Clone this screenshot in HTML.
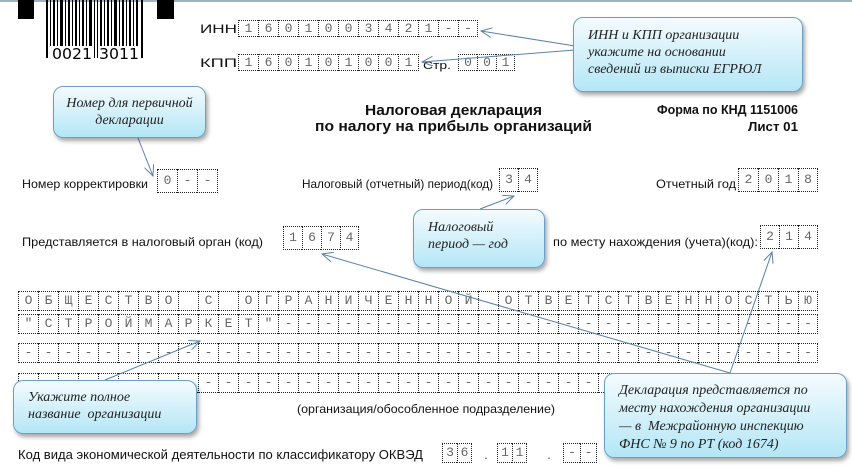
<!DOCTYPE html>
<html><head><meta charset="utf-8"><style>
body{margin:0;width:852px;height:468px;overflow:hidden;background:#fff;position:relative;font-family:"Liberation Sans",sans-serif}
.c{position:absolute;display:flex}
.c span{box-sizing:border-box;border:1px dotted #222;border-right:none;text-align:center;font-family:"Liberation Mono",monospace;color:#666;font-size:13px}
.c span:last-child{border-right:1px dotted #222}
.co{position:absolute;box-sizing:border-box;border:1px solid #6a9fc9;border-radius:10px;background:linear-gradient(#f4fbfe,#b4e6f6);box-shadow:2px 3px 4px rgba(0,0,0,.35);font-family:"Liberation Serif",serif;font-style:italic;font-size:14px;color:#222;line-height:17px}
svg{position:absolute;left:0;top:0}
</style></head><body>
<svg width="852" height="468" style="z-index:0">
<line x1="0" y1="1" x2="852" y2="1" stroke="#9fb3c4" stroke-width="2"/>
<rect x="18" y="0" width="16" height="19" fill="#000"/><rect x="157" y="0" width="17" height="19" fill="#000"/>
<g fill="#000">
<rect x="46" y="0" width="2" height="58"/><rect x="50" y="0" width="1" height="46"/><rect x="53" y="0" width="2" height="46"/><rect x="57" y="0" width="1" height="46"/><rect x="60" y="0" width="3" height="46"/><rect x="65" y="0" width="1" height="46"/><rect x="68" y="0" width="2" height="46"/><rect x="72" y="0" width="1" height="46"/><rect x="75" y="0" width="2" height="46"/><rect x="79" y="0" width="1" height="46"/><rect x="82" y="0" width="2" height="46"/><rect x="86" y="0" width="1" height="46"/><rect x="89" y="0" width="3" height="46"/><rect x="94" y="0" width="1" height="58"/><rect x="97" y="0" width="1" height="58"/><rect x="100" y="0" width="2" height="46"/><rect x="104" y="0" width="1" height="46"/><rect x="107" y="0" width="2" height="46"/><rect x="111" y="0" width="1" height="46"/><rect x="114" y="0" width="3" height="46"/><rect x="119" y="0" width="1" height="46"/><rect x="122" y="0" width="2" height="46"/><rect x="126" y="0" width="1" height="46"/><rect x="129" y="0" width="2" height="46"/><rect x="133" y="0" width="1" height="46"/><rect x="136" y="0" width="2" height="46"/><rect x="141" y="0" width="2" height="58"/>
</g>
<text x="52" y="59" font-family="DejaVu Sans,sans-serif" font-size="15" textLength="40" lengthAdjust="spacingAndGlyphs">0021</text>
<text x="99" y="59" font-family="DejaVu Sans,sans-serif" font-size="15" textLength="40" lengthAdjust="spacingAndGlyphs">3011</text>
<g font-size="12" fill="#111">
<text x="200" y="33" textLength="37" lengthAdjust="spacingAndGlyphs">ИНН</text>
<text x="200" y="67" textLength="37" lengthAdjust="spacingAndGlyphs">КПП</text>
<text x="423" y="69" font-size="11" textLength="28" lengthAdjust="spacingAndGlyphs">Стр.</text>
<text x="365" y="115" font-size="15" font-weight="bold" textLength="177" lengthAdjust="spacingAndGlyphs">Налоговая декларация</text>
<text x="315" y="131" font-size="15" font-weight="bold" textLength="277" lengthAdjust="spacingAndGlyphs">по налогу на прибыль организаций</text>
<text x="657" y="114" font-size="12.5" font-weight="bold" textLength="141" lengthAdjust="spacingAndGlyphs">Форма по КНД 1151006</text>
<text x="748" y="131" font-size="12.5" font-weight="bold" textLength="50" lengthAdjust="spacingAndGlyphs">Лист 01</text>
<text x="22" y="188" textLength="126" lengthAdjust="spacingAndGlyphs">Номер корректировки</text>
<text x="302" y="188" textLength="191" lengthAdjust="spacingAndGlyphs">Налоговый (отчетный) период(код)</text>
<text x="656" y="188" textLength="80" lengthAdjust="spacingAndGlyphs">Отчетный год</text>
<text x="22" y="246" textLength="241" lengthAdjust="spacingAndGlyphs">Представляется в налоговый орган (код)</text>
<text x="553" y="246" textLength="205" lengthAdjust="spacingAndGlyphs">по месту нахождения (учета)(код):</text>
<text x="297" y="413" textLength="258" lengthAdjust="spacingAndGlyphs">(организация/обособленное подразделение)</text>
<text x="18" y="459" font-size="13" textLength="405" lengthAdjust="spacingAndGlyphs">Код вида экономической деятельности по классификатору ОКВЭД</text>
<text x="484" y="459" font-size="14" fill="#666">.</text>
<text x="547" y="459" font-size="14" fill="#666">.</text>
</g>
</svg>
<div class="c" style="left:238px;top:20px"><span style="width:20px;height:17px;line-height:15px">1</span><span style="width:20px;height:17px;line-height:15px">6</span><span style="width:20px;height:17px;line-height:15px">0</span><span style="width:20px;height:17px;line-height:15px">1</span><span style="width:20px;height:17px;line-height:15px">0</span><span style="width:20px;height:17px;line-height:15px">0</span><span style="width:20px;height:17px;line-height:15px">3</span><span style="width:20px;height:17px;line-height:15px">4</span><span style="width:20px;height:17px;line-height:15px">2</span><span style="width:20px;height:17px;line-height:15px">1</span><span style="width:20px;height:17px;line-height:15px">-</span><span style="width:20px;height:17px;line-height:15px">-</span></div>
<div class="c" style="left:238px;top:54px"><span style="width:20px;height:17px;line-height:15px">1</span><span style="width:20px;height:17px;line-height:15px">6</span><span style="width:20px;height:17px;line-height:15px">0</span><span style="width:20px;height:17px;line-height:15px">1</span><span style="width:20px;height:17px;line-height:15px">0</span><span style="width:20px;height:17px;line-height:15px">1</span><span style="width:20px;height:17px;line-height:15px">0</span><span style="width:20px;height:17px;line-height:15px">0</span><span style="width:21px;height:17px;line-height:15px">1</span></div>
<div class="c" style="left:458px;top:54px"><span style="width:19px;height:17px;line-height:15px">0</span><span style="width:19px;height:17px;line-height:15px">0</span><span style="width:19px;height:17px;line-height:15px">1</span></div>
<div class="c" style="left:157px;top:169px"><span style="width:20px;height:24px;line-height:22px">0</span><span style="width:20px;height:24px;line-height:22px">-</span><span style="width:21px;height:24px;line-height:22px">-</span></div>
<div class="c" style="left:499px;top:168px"><span style="width:19px;height:24px;line-height:22px">3</span><span style="width:20px;height:24px;line-height:22px">4</span></div>
<div class="c" style="left:738px;top:168px"><span style="width:20px;height:24px;line-height:22px">2</span><span style="width:20px;height:24px;line-height:22px">0</span><span style="width:20px;height:24px;line-height:22px">1</span><span style="width:20px;height:24px;line-height:22px">8</span></div>
<div class="c" style="left:283px;top:226px"><span style="width:19px;height:24px;line-height:22px">1</span><span style="width:19px;height:24px;line-height:22px">6</span><span style="width:19px;height:24px;line-height:22px">7</span><span style="width:19px;height:24px;line-height:22px">4</span></div>
<div class="c" style="left:760px;top:225px"><span style="width:19px;height:24px;line-height:22px">2</span><span style="width:19px;height:24px;line-height:22px">1</span><span style="width:20px;height:24px;line-height:22px">4</span></div>
<div class="c" style="left:442px;top:443px"><span style="width:15px;height:20px;line-height:18px">3</span><span style="width:15px;height:20px;line-height:18px">6</span></div>
<div class="c" style="left:497px;top:443px"><span style="width:15px;height:20px;line-height:18px">1</span><span style="width:15px;height:20px;line-height:18px">1</span></div>
<div class="c" style="left:563px;top:443px"><span style="width:17px;height:20px;line-height:18px">-</span><span style="width:17px;height:20px;line-height:18px">-</span></div>
<div id="g"></div>
<script>
var rows=["ОБЩЕСТВО С ОГРАНИЧЕННОЙ ОТВЕТСТВЕННОСТЬЮ",'"СТРОЙМАРКЕТ"'+"-".repeat(27),"-".repeat(40),"-".repeat(40)];
var tops=[291,314,343,373],h="";
rows.forEach(function(r,i){h+='<div class="c" style="left:18px;top:'+tops[i]+'px">';for(var k=0;k<40;k++){h+='<span style="width:20px;height:20px;line-height:18px">'+(r[k]==" "?"&nbsp;":r[k])+'</span>';}h+='</div>';});
document.getElementById("g").innerHTML=h;
</script>
<svg width="852" height="468" style="z-index:2">
<defs><marker id="a" markerWidth="12" markerHeight="10" refX="11" refY="5" orient="auto" markerUnits="userSpaceOnUse"><path d="M0,0 L11,5 L0,10" fill="none" stroke="#5b82aa" stroke-width="1"/></marker></defs>
<g stroke="#5b82aa" stroke-width="1" fill="none" marker-end="url(#a)">
<line x1="575" y1="46" x2="481" y2="31"/>
<line x1="575" y1="50" x2="422" y2="62"/>
<line x1="138" y1="138" x2="153" y2="176"/>
<line x1="480" y1="209" x2="514" y2="196"/>
<line x1="730" y1="373" x2="322" y2="254"/>
<line x1="730" y1="373" x2="772" y2="252"/>
<line x1="105" y1="380" x2="200" y2="341"/>
</g>
</svg>
<div class="co" style="left:573px;top:17px;width:230px;height:75px;padding:9px 0 0 14px;z-index:3">ИНН и КПП организации<br>укажите на основании<br>сведений из выписки ЕГРЮЛ</div>
<div class="co" style="left:53px;top:86px;width:153px;height:52px;padding:8px 0 0;text-align:center;z-index:3">Номер для первичной<br>декларации</div>
<div class="co" style="left:413px;top:209px;width:132px;height:59px;padding:9px 0 0 14px;z-index:3">Налоговый<br>период — год</div>
<div class="co" style="left:13px;top:380px;width:184px;height:54px;padding:8px 0 0 14px;z-index:3">Укажите полное<br>название&nbsp; организации</div>
<div class="co" style="left:604px;top:373px;width:243px;height:85px;padding:8px 0 0 14px;line-height:18px;z-index:3">Декларация представляется по<br>месту нахождения организации<br>— в&nbsp; Межрайонную инспекцию<br>ФНС № 9 по РТ (код 1674)</div>
</body></html>
